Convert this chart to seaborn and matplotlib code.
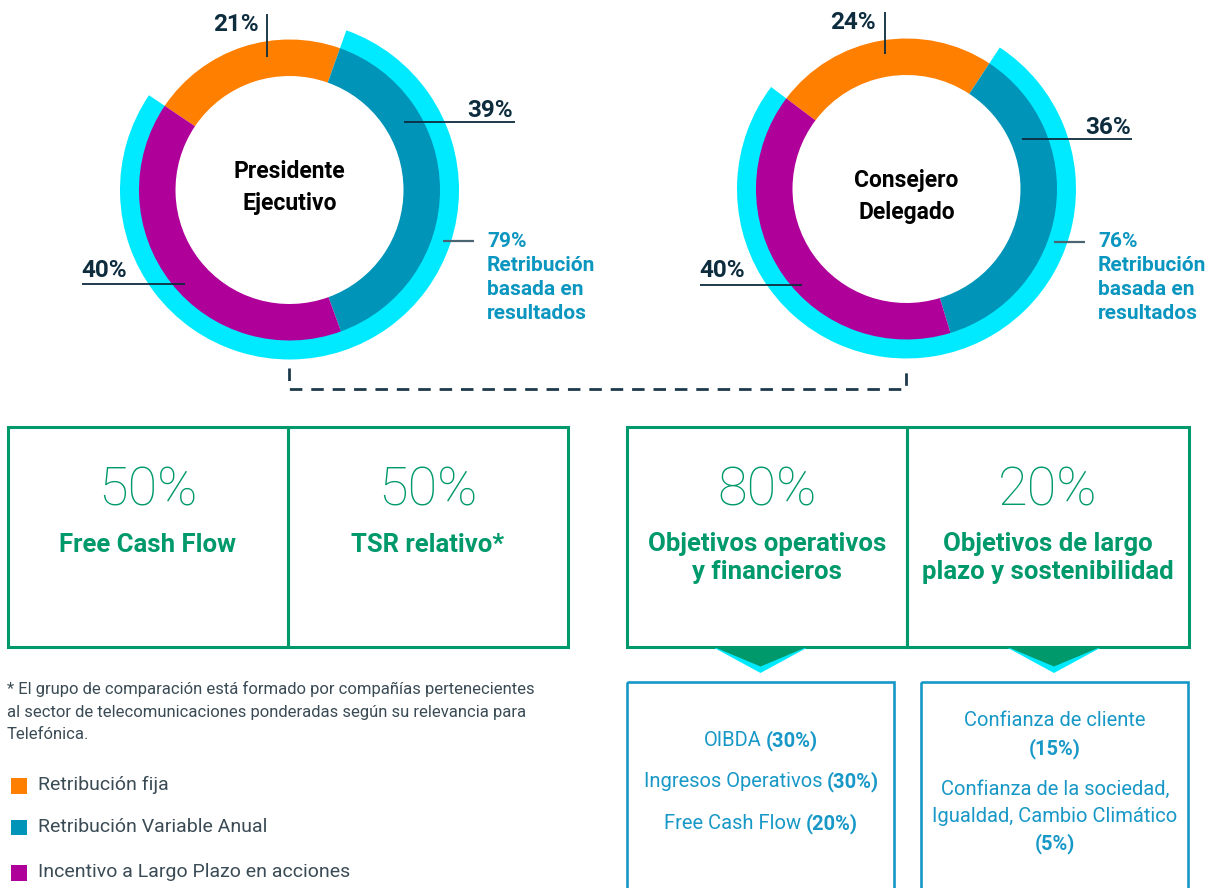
import numpy as np
import pandas as pd

import matplotlib
matplotlib.use("Agg")

import matplotlib.pyplot as plt
from matplotlib.patches import Rectangle, Polygon
import seaborn as sns

# ---------------- DATA ----------------
components = ["Retribución fija", "Retribución Variable Anual", "Incentivo a Largo Plazo en acciones"]
presidente = [21, 39, 40]
consejero = [24, 36, 40]
roles = ["Presidente\nEjecutivo", "Consejero\nDelegado"]
performance_share = [79, 76]

ltip_weights = [50, 50]
ltip_metrics = ["Free Cash Flow", "TSR relativo*"]

rva_weights = [80, 20]
rva_metrics = ["Objetivos operativos\ny financieros", "Objetivos de largo\nplazo y sostenibilidad"]

op_items = ["OIBDA", "Ingresos Operativos", "Free Cash Flow"]
op_weights = [30, 30, 20]
lp_items = ["Confianza de cliente", "Confianza de la sociedad,\nIgualdad, Cambio Climático"]
lp_weights = [15, 5]

footnote = ("* El grupo de comparación está formado por compañías pertenecientes\n"
            "al sector de telecomunicaciones ponderadas según su relevancia para\n"
            "Telefónica.")

# ---------------- STYLE ----------------
ORANGE = "#ff7f00"
TEAL = "#0095b8"
PURPLE = "#b0009a"
CYAN = "#00eaff"
NAVY = "#0d2c3e"
LBLUE = "#0b96c0"
GREEN = "#00996b"
BOXBLUE = "#1898c6"
GREY = "#3a4b55"
palette = sns.color_palette([ORANGE, TEAL, PURPLE])

sns.set_theme(style="white")
plt.rcParams["font.family"] = ["Roboto", "DejaVu Sans"]

W, H = 1215, 888
fig = plt.figure(figsize=(W / 100, H / 100), dpi=100, facecolor="white")
ax = fig.add_axes([0, 0, 1, 1])
ax.set_xlim(0, W)
ax.set_ylim(H, 0)
ax.axis("off")
ax.set_facecolor("none")
ax.set_zorder(2)
renderer = fig.canvas.get_renderer()


def txt(x, y, s, size, color, weight="normal", ha="center", **kw):
    # y is the visual centre of the capitals
    return ax.text(x, y + 0.49 * size, s, fontsize=size, color=color,
                   fontweight=weight, ha=ha, va="baseline", **kw)


def mixed(cx, y, parts, size, color):
    objs = [txt(0, y, s, size, color, weight=wt, ha="left") for s, wt in parts]
    widths = [t.get_window_extent(renderer).width for t in objs]
    gap = size * 0.3
    x = cx - (sum(widths) + gap * (len(objs) - 1)) / 2
    for t, w in zip(objs, widths):
        t.set_x(x)
        x += w + gap


# ---------------- DONUTS ----------------
R_OUT, R_IN, R_RING = 150.5, 114, 169.5
donuts = [
    dict(c=(289.5, 190), start=146, vals=presidente,
         lab=[(236, 22, "center"), (513, 108, "right"), (81, 268, "left")],
         lines=[((267, 267), (14, 57)), ((404, 515), (122, 122)), ((82, 185), (284, 284))],
         perf=(487, [240, 264, 288, 312]), tick=((443, 474), (241, 241))),
    dict(c=(906.5, 189), start=143, vals=consejero,
         lab=[(853, 20, "center"), (1131, 125, "right"), (699, 268, "left")],
         lines=[((884.5, 884.5), (12, 54)), ((1022, 1132), (139, 139)), ((700, 802), (285, 285))],
         perf=(1098, [240, 264, 288, 312]), tick=((1054, 1085), (242, 242))),
]

for i, d in enumerate(donuts):
    cx, cy = d["c"]
    pad = 185
    pax = fig.add_axes([(cx - pad) / W, 1 - (cy + pad) / H, 2 * pad / W, 2 * pad / H])
    pax.set_zorder(1)
    share = performance_share[i]
    pax.pie([100 - share, share], radius=R_RING, startangle=d["start"], counterclock=False,
            colors=["none", CYAN], wedgeprops=dict(width=R_RING - R_OUT + 2, linewidth=0))
    pax.pie(d["vals"], radius=R_OUT, startangle=d["start"], counterclock=False,
            colors=palette, wedgeprops=dict(width=R_OUT - R_IN, linewidth=0))
    pax.set_xlim(-pad, pad)
    pax.set_ylim(-pad, pad)
    pax.set_aspect("equal")
    pax.axis("off")

    name_lines = roles[i].split("\n")
    for k, ln in enumerate(name_lines):
        txt(cx, cy - 20 + 32 * k + (0 if i == 0 else 10), ln, 16.5, "black", weight="bold")

    for (lx, ly, ha), (xs, ys), v in zip(d["lab"], d["lines"], d["vals"]):
        txt(lx, ly, f"{v}%", 17.5, NAVY, weight="bold", ha=ha)
        ax.plot(xs, ys, color=NAVY, lw=1.3, solid_capstyle="butt")

    px, pys = d["perf"]
    perf_lines = [f"{share}%", "Retribución", "basada en", "resultados"]
    for yy, ln in zip(pys, perf_lines):
        txt(px, yy, ln, 15, LBLUE, weight="bold", ha="left")
    ax.plot(*d["tick"], color="#4a6472", lw=1.6, solid_capstyle="butt")

# dashed connector
ax.plot([288.6, 288.6, 905.6, 905.6], [368, 389, 389, 366], color="#1d3a4c",
        lw=2, linestyle=(0, (4.5, 3.2)))

# ---------------- LTIP BOXES ----------------
ltip_x = [7.5, 287.5, 568]
for k in range(2):
    ax.add_patch(Rectangle((ltip_x[k], 427), ltip_x[k + 1] - ltip_x[k], 219.5,
                           fill=False, edgecolor=GREEN, lw=2.2))
    bx = (ltip_x[k] + ltip_x[k + 1]) / 2
    txt(bx, 486, f"{ltip_weights[k]}%", 39, GREEN, weight="light")
    txt(bx, 543, ltip_metrics[k], 18.5, GREEN, weight="bold")

# ---------------- RVA BOXES ----------------
rva_x = [627, 907, 1188.5]
for k in range(2):
    ax.add_patch(Rectangle((rva_x[k], 427), rva_x[k + 1] - rva_x[k], 219.5,
                           fill=False, edgecolor=GREEN, lw=2.2))
    bx = (rva_x[k] + rva_x[k + 1]) / 2
    txt(bx, 486, f"{rva_weights[k]}%", 39, GREEN, weight="light")
    for j, ln in enumerate(rva_metrics[k].split("\n")):
        txt(bx, 541.5 + 28.5 * j, ln, 18.5, GREEN, weight="bold")

# chevrons
for ax_c in [760.5, 1054]:
    ax.add_patch(Polygon([(ax_c - 46, 648), (ax_c + 46, 648), (ax_c, 673)],
                         closed=True, facecolor=CYAN, edgecolor="none", zorder=3))
    ax.add_patch(Polygon([(ax_c - 49, 646), (ax_c + 49, 646), (ax_c, 666.5)],
                         closed=True, facecolor=GREEN, edgecolor="none", zorder=4))

# lower boxes
ax.add_patch(Rectangle((627, 681.5), 267, 230, fill=False, edgecolor=BOXBLUE, lw=1.9))
ax.add_patch(Rectangle((920.5, 681.5), 267, 230, fill=False, edgecolor=BOXBLUE, lw=1.9))

for yy, item, wgt in zip([739, 780, 822], op_items, op_weights):
    mixed(761, yy, [(item, "normal"), (f"({wgt}%)", "bold")], 14.5, BOXBLUE)

lp_y = [[719], [788, 815]]
lp_w_y = [747, 842]
for lines_y, item, wy, wgt in zip(lp_y, lp_items, lp_w_y, lp_weights):
    for yy, ln in zip(lines_y, item.split("\n")):
        txt(1055, yy, ln, 14.5, BOXBLUE, weight="normal")
    txt(1055, wy, f"({wgt}%)", 14.5, BOXBLUE, weight="bold")

# ---------------- FOOTNOTE & LEGEND ----------------
for yy, ln in zip([688, 711, 733], footnote.split("\n")):
    txt(7, yy, ln, 12, GREY, weight="normal", ha="left")

for yy, lab, col in zip([785.5, 827, 872.5], components, palette):
    ax.add_patch(Rectangle((11, yy - 7.5), 15.5, 15.5, facecolor=col, edgecolor="none"))
    txt(38.5, yy - 2, lab, 14, GREY, weight="normal", ha="left")

plt.savefig("out.png", dpi=100, facecolor="white")
plt.close()
